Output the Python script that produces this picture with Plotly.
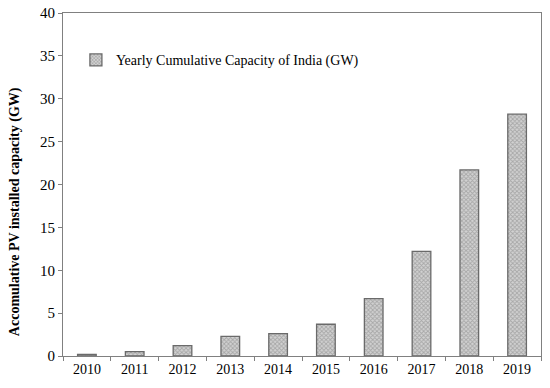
import plotly.graph_objects as go

years = ["2010", "2011", "2012", "2013", "2014", "2015", "2016", "2017", "2018", "2019"]
capacity = [0.2, 0.5, 1.2, 2.3, 2.6, 3.7, 6.7, 12.2, 21.7, 28.2]
y_ticks = [0, 5, 10, 15, 20, 25, 30, 35, 40]

font = "Liberation Serif"

fig = go.Figure()
fig.add_trace(go.Bar(
    x=years, y=capacity,
    name="Yearly Cumulative Capacity of India (GW)",
    marker=dict(
        color="#a8a8a8",
        line=dict(color="#6a6a6a", width=1.3),
        pattern=dict(shape="x", size=3, fgcolor="#7c7c7c", bgcolor="#d2d2d2", solidity=0.5),
    ),
))

fig.update_layout(
    width=550, height=388,
    margin=dict(l=63, r=9, t=13, b=32),
    paper_bgcolor="white", plot_bgcolor="white",
    font=dict(family=font, size=14, color="black"),
    bargap=0.61,
    showlegend=True,
    legend=dict(x=0.027, y=0.862, xanchor="left", yanchor="middle",
                bgcolor="rgba(0,0,0,0)", font=dict(size=14, family=font),
                itemwidth=30),
    annotations=[dict(
        text="<b>Accomulative PV installed capacity (GW)</b>",
        textangle=-90, xref="paper", yref="paper", x=-0.1, y=0.42,
        xanchor="center", yanchor="middle", showarrow=False,
        font=dict(size=14, family=font, color="black"),
    )],
)
fig.update_xaxes(
    type="category", showline=True, linecolor="#808080", linewidth=1.2,
    mirror=True, ticks="outside", tickson="boundaries", ticklen=4,
    tickcolor="#808080", showgrid=False, tickfont=dict(size=14, family=font),
    automargin=False,
)
fig.update_yaxes(
    range=[0, 40], tickvals=y_ticks, showline=True, linecolor="#808080",
    linewidth=1.2, mirror=True, ticks="outside", ticklen=4, tickcolor="#808080",
    showgrid=False, zeroline=False, tickfont=dict(size=15, family=font),
    automargin=False,
)

fig.write_html(
    "out.html",
    config={"displayModeBar": False},
    post_script="document.body.style.margin='0';document.body.style.overflow='hidden';",
)
